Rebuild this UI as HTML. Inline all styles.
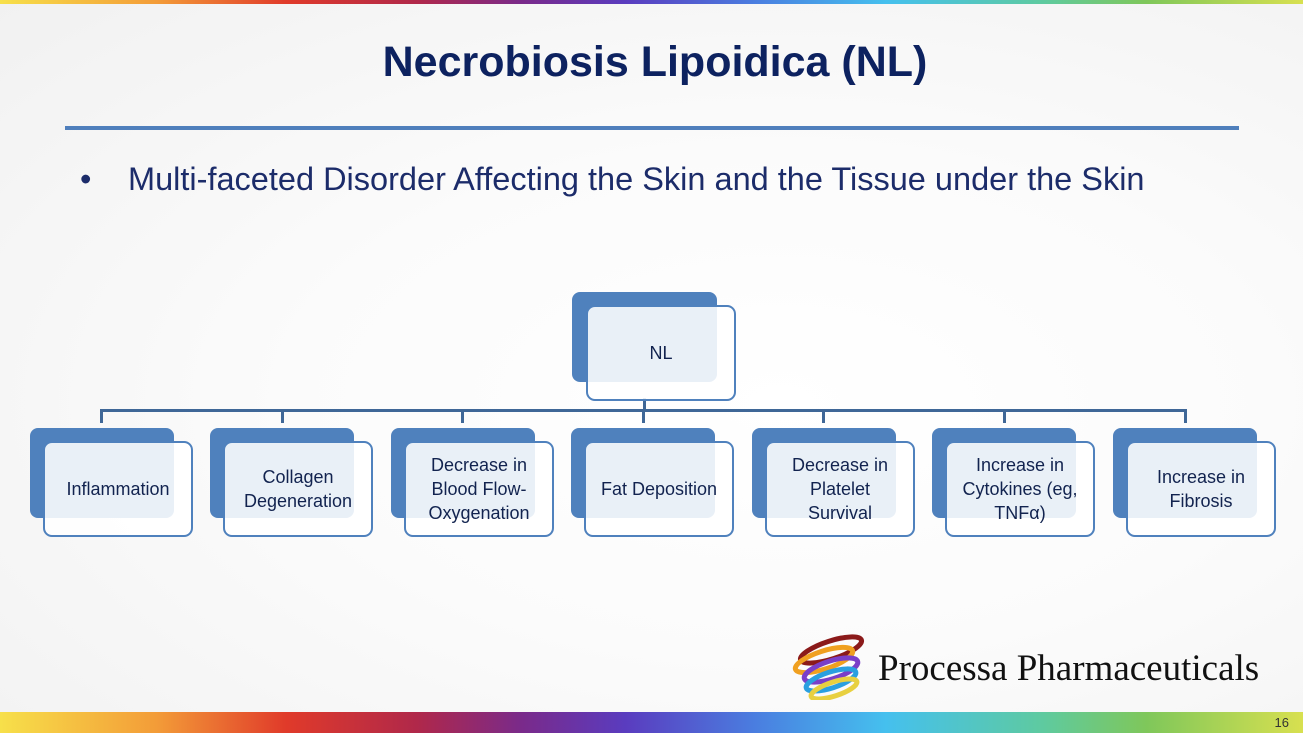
<!DOCTYPE html>
<html><head><meta charset="utf-8"><style>
*{margin:0;padding:0;box-sizing:border-box}
body{width:1303px;height:733px;overflow:hidden;position:relative;font-family:"Liberation Sans",sans-serif;
background:radial-gradient(ellipse at 60% 55%,#ffffff 0%,#fbfbfb 45%,#f1f1f1 100%)}
.bar{position:absolute;left:0;width:1303px;background:linear-gradient(90deg,#f7e04a 0%,#f39c38 12%,#e03a2a 22%,#b0284a 32%,#7a2a8a 40%,#5a3cbf 48%,#4a7ee0 58%,#45c0ee 68%,#5ecaa0 80%,#7fc75a 88%,#d8e050 100%)}
.title{position:absolute;top:38px;left:0;width:1310px;text-align:center;font-weight:bold;font-size:43px;color:#0d2260}
.rule{position:absolute;left:65px;top:126px;width:1174px;height:4px;background:#4f7fbc}
.bul{position:absolute;top:161px;left:80px;font-size:32.5px;color:#1c2c6a;white-space:nowrap}
.bul span{position:absolute;left:48px}
.back{position:absolute;background:#4f81bd;border-radius:8px}
.front{position:absolute;background:rgba(255,255,255,0.88);border:2.5px solid #4f81bd;border-radius:9px;display:flex;align-items:center;justify-content:center;text-align:center;font-size:18px;line-height:24px;color:#12234f;padding:0 4px}
.ln{position:absolute;background:#3f6797}
.logo{position:absolute;left:878px;top:647px;font-family:"Liberation Serif",serif;font-size:37px;color:#111;white-space:nowrap}
.pg{position:absolute;right:14px;top:715px;font-size:13px;color:#333}
</style></head><body>
<div class="bar" style="top:0;height:4px"></div>
<div class="bar" style="top:712px;height:21px"></div>
<div class="title">Necrobiosis Lipoidica (NL)</div>
<div class="rule"></div>
<div class="bul">•<span>Multi-faceted Disorder Affecting the Skin and the Tissue under the Skin</span></div>

<div class="ln" style="left:643px;top:398px;width:3px;height:14px"></div>
<div class="ln" style="left:100px;top:409px;width:1087px;height:3px"></div>
<div class="ln" style="left:100px;top:409px;width:3px;height:14px"></div>
<div class="ln" style="left:281px;top:409px;width:3px;height:14px"></div>
<div class="ln" style="left:461px;top:409px;width:3px;height:14px"></div>
<div class="ln" style="left:642px;top:409px;width:3px;height:14px"></div>
<div class="ln" style="left:822px;top:409px;width:3px;height:14px"></div>
<div class="ln" style="left:1003px;top:409px;width:3px;height:14px"></div>
<div class="ln" style="left:1184px;top:409px;width:3px;height:14px"></div>

<div class="back" style="left:572px;top:292px;width:145px;height:90px"></div>
<div class="front" style="left:586px;top:305px;width:150px;height:96px">NL</div>

<div class="back" style="left:30px;top:428px;width:144px;height:90px"></div>
<div class="front" style="left:43px;top:441px;width:150px;height:96px">Inflammation</div>
<div class="back" style="left:210px;top:428px;width:144px;height:90px"></div>
<div class="front" style="left:223px;top:441px;width:150px;height:96px">Collagen Degeneration</div>
<div class="back" style="left:391px;top:428px;width:144px;height:90px"></div>
<div class="front" style="left:404px;top:441px;width:150px;height:96px">Decrease in Blood Flow-Oxygenation</div>
<div class="back" style="left:571px;top:428px;width:144px;height:90px"></div>
<div class="front" style="left:584px;top:441px;width:150px;height:96px">Fat Deposition</div>
<div class="back" style="left:752px;top:428px;width:144px;height:90px"></div>
<div class="front" style="left:765px;top:441px;width:150px;height:96px">Decrease in<br>Platelet<br>Survival</div>
<div class="back" style="left:932px;top:428px;width:144px;height:90px"></div>
<div class="front" style="left:945px;top:441px;width:150px;height:96px">Increase in Cytokines (eg, TNFα)</div>
<div class="back" style="left:1113px;top:428px;width:144px;height:90px"></div>
<div class="front" style="left:1126px;top:441px;width:150px;height:96px">Increase in<br>Fibrosis</div>

<svg style="position:absolute;left:786px;top:634px" width="80" height="66" viewBox="0 0 80 66">
<ellipse cx="45" cy="16" rx="32" ry="9" transform="rotate(-18 45 16)" fill="none" stroke="#8b1a1a" stroke-width="5"/>
<ellipse cx="38" cy="26" rx="30" ry="9" transform="rotate(-18 38 26)" fill="none" stroke="#f0a020" stroke-width="5"/>
<ellipse cx="45" cy="36" rx="28" ry="9" transform="rotate(-18 45 36)" fill="none" stroke="#7a3fc8" stroke-width="5"/>
<ellipse cx="45" cy="46" rx="26" ry="8" transform="rotate(-18 45 46)" fill="none" stroke="#2a9fe0" stroke-width="5"/>
<ellipse cx="48" cy="55" rx="24" ry="7" transform="rotate(-18 48 55)" fill="none" stroke="#e8d040" stroke-width="5"/>
</svg>
<div class="logo">Processa Pharmaceuticals</div>
<div class="pg">16</div>
</body></html>
